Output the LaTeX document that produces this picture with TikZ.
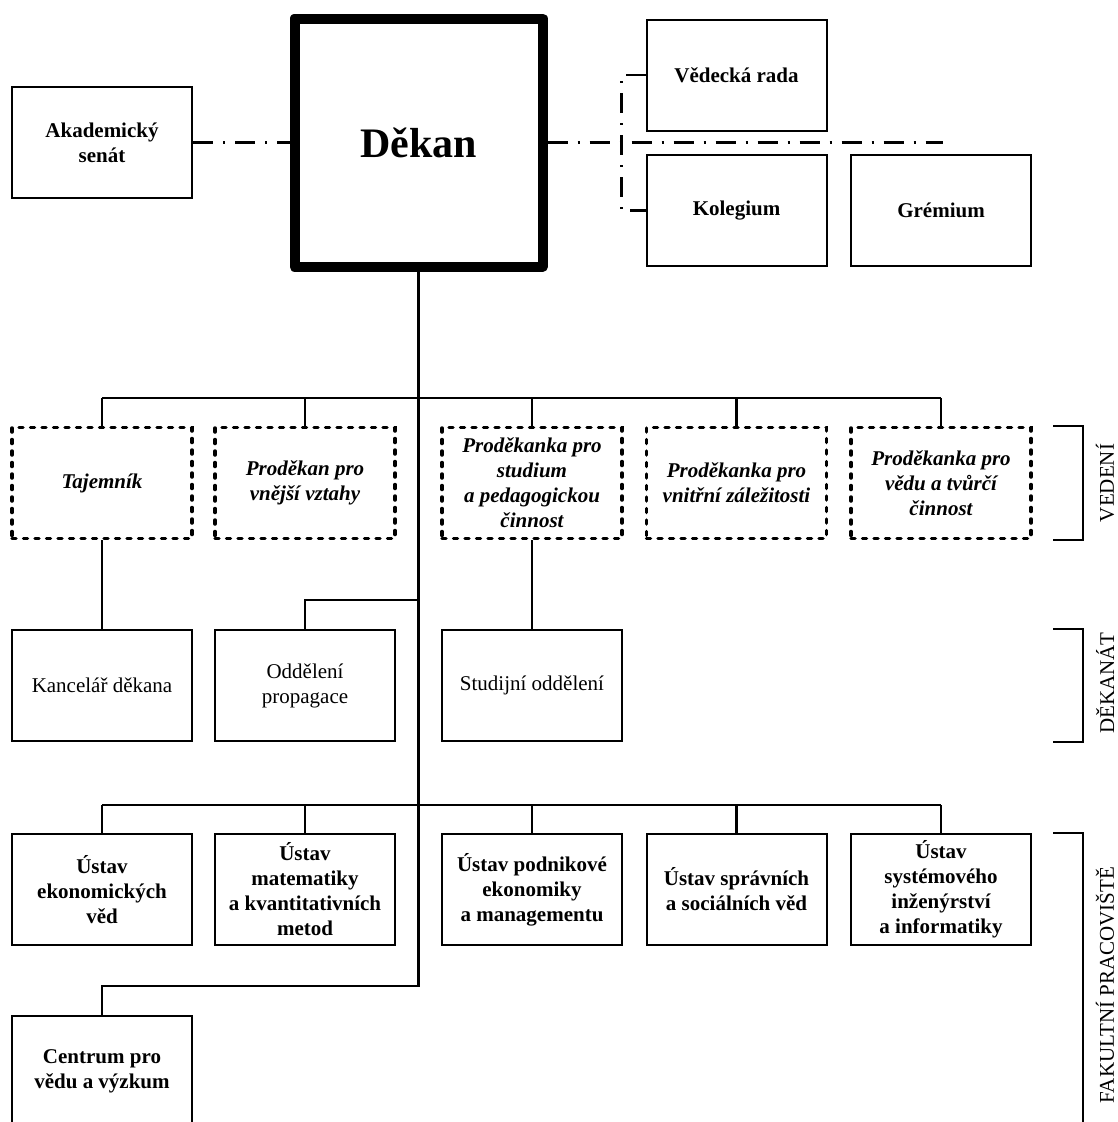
\documentclass[tikz,border=0pt]{standalone}
\usepackage{fontspec}
\setmainfont{Liberation Serif}
\begin{document}
\begin{tikzpicture}[x=1pt, y=-1pt,
    box/.style={draw, line width=2pt, minimum width=180pt, minimum height=111pt, inner sep=0pt, align=center, font=\fontsize{21}{25}\selectfont},
    bbox/.style={box, font=\fontsize{21}{25}\selectfont\bfseries},
    ibox/.style={box, line width=3.5pt, dash pattern=on 4pt off 7.5pt, line cap=round, font=\fontsize{21}{25}\selectfont\bfseries\itshape},
    conn/.style={line width=2.5pt},
    dd/.style={line width=2.5pt, dash pattern=on 20pt off 10pt on 2pt off 10pt},
    lbl/.style={rotate=90, inner sep=0pt, font=\fontsize{21}{25}\selectfont}]
\path[use as bounding box, clip] (0,0) rectangle (1117,1122);

\node[draw, line width=10pt, line join=round, minimum size=248pt, inner sep=0pt, font=\fontsize{42}{48}\selectfont\bfseries] (dekan) at (418.5,142.5) {Děkan};
\node[bbox] (aksenat) at (102,142.5) {Akademický\\senát};
\node[bbox] (vedrada) at (736.5,75) {Vědecká rada};
\node[bbox] (kolegium) at (736.5,210.5) {Kolegium};
\node[bbox] (gremium) at (941,210.5) {Grémium};

\node[ibox] (tajemnik) at (102,483) {Tajemník};
\node[ibox] (prvnejsi) at (305,483) {Proděkan pro\\vnější vztahy};
\node[ibox] (prstudium) at (532,483) {Proděkanka pro\\studium\\a pedagogickou\\činnost};
\node[ibox] (prvnitrni) at (736.5,483) {Proděkanka pro\\vnitřní záležitosti};
\node[ibox] (prveda) at (941,483) {Proděkanka pro\\vědu a tvůrčí\\činnost};

\node[box] (kancelar) at (102,685.5) {Kancelář děkana};
\node[box] (propagace) at (305,685.5) {Oddělení\\propagace};
\node[box] (studodd) at (532,685.5) {Studijní oddělení};

\node[bbox] (ustek) at (102,889.5) {Ústav\\ekonomických\\věd};
\node[bbox] (ustmat) at (305,889.5) {Ústav\\matematiky\\a kvantitativních\\metod};
\node[bbox] (ustpod) at (532,889.5) {Ústav podnikové\\ekonomiky\\a managementu};
\node[bbox] (ustspr) at (736.5,889.5) {Ústav správních\\a sociálních věd};
\node[bbox] (ustsys) at (941,889.5) {Ústav\\systémového\\inženýrství\\a informatiky};

\node[bbox] (centrum) at (102,1071.5) {Centrum pro\\vědu a výzkum};

\draw[dd] (aksenat) -- (dekan);
\coordinate (ddend) at (943,142.5);
\draw[dd] (dekan.east) -- (ddend);
\draw[dd] (vedrada.west) -- ++(-24,0) |- (kolegium.west);

\coordinate (bushi) at (418.5,398);
\coordinate (buslo) at (418.5,805);
\draw[conn] (dekan.south) -- (418.5,986) -| (centrum.north);
\draw[conn] (tajemnik.north |- bushi) -- (prveda.north |- bushi);
\foreach \n in {tajemnik,prvnejsi,prstudium,prvnitrni,prveda}
{
    \draw[conn] (\n.north |- bushi) -- (\n.north);
}
\draw[conn] (ustek.north |- buslo) -- (ustsys.north |- buslo);
\foreach \n in {ustek,ustmat,ustpod,ustspr,ustsys}
{
    \draw[conn] (\n.north |- buslo) -- (\n.north);
}
\draw[conn] (tajemnik) -- (kancelar);
\draw[conn] (prstudium) -- (studodd);
\draw[conn] (418.5,600) -| (propagace.north);

\draw[line width=2pt] (1053,426) -| (1083,540) -- (1053,540);
\draw[line width=2pt] (1053,629) -| (1083,742) -- (1053,742);
\draw[line width=2pt] (1053,833) -| (1083,1130);
\node[lbl] (lvedeni) at (1105,483) {VEDENÍ};
\node[lbl] (ldekanat) at (1105,683) {DĚKANÁT};
\node[lbl] (lfakulta) at (1105,985) {FAKULTNÍ PRACOVIŠTĚ};
\end{tikzpicture}
\end{document}
